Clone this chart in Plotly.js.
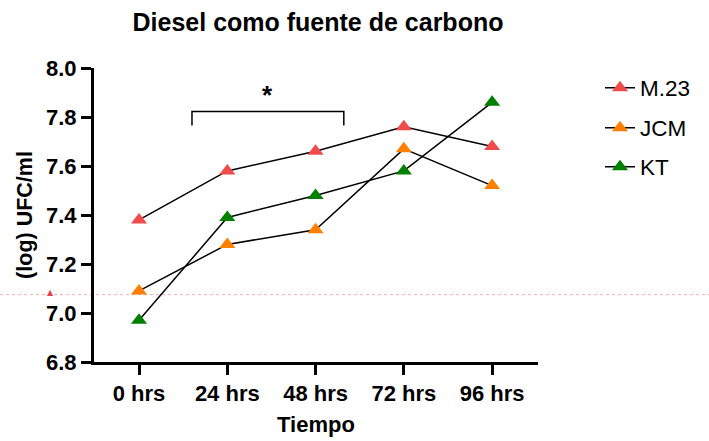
<!DOCTYPE html>
<html><head><meta charset="utf-8">
<script src="https://cdn.plot.ly/plotly-3.0.1.min.js"></script>
<style>html,body{margin:0;padding:0;background:#fff}</style>
</head><body><div id="chart" style="width:709px;height:441px"></div>
<script>
const categories = ["0 hrs", "24 hrs", "48 hrs", "72 hrs", "96 hrs"];
const seriesNames = ["M.23", "JCM", "KT"];
const m23 = [7.38, 7.58, 7.66, 7.76, 7.68];
const jcm = [7.09, 7.28, 7.34, 7.67, 7.52];
const kt  = [6.97, 7.39, 7.48, 7.58, 7.86];
const colors = ["#F24B4B", "#FF8000", "#008000"];
const yTicks = [6.8, 7.0, 7.2, 7.4, 7.6, 7.8, 8.0];
const refLine = 7.075;
const refMarkerX = -1.06;
const bracket = {from: 0.6, to: 2.32, top: 7.822, bottom: 7.765, label: "*"};

const FONT = "Liberation Sans, Arial, sans-serif";
const xRange = [-0.51, 4.52];
const xIdx = categories.map((_, i) => i);
const series = [m23, jcm, kt];
const legendIds = ["legend", "legend2", "legend3"];
const traces = series.map((vals, i) => ({
  type: "scatter", mode: "lines+markers", x: xIdx, y: vals, name: seriesNames[i],
  line: {color: "#000", width: 1.5},
  marker: {symbol: "triangle-up", size: 14, color: colors[i]},
  legend: legendIds[i], cliponaxis: false
}));

const legendBase = {xanchor: "left", yanchor: "middle",
  font: {family: FONT, size: 22.5, color: "#000"}, bgcolor: "rgba(0,0,0,0)"};
const legX = (600 - 94) / 444;
const refMarkerPaperX = (refMarkerX - xRange[0]) / (xRange[1] - xRange[0]);
const layout = {
  width: 709, height: 441,
  margin: {l: 94, r: 171, t: 68, b: 79},
  paper_bgcolor: "#fff", plot_bgcolor: "#fff",
  font: {family: FONT, color: "#000"},
  showlegend: true,
  title: {text: "<b>Diesel como fuente de carbono</b>", x: 318/709, xanchor: "center", y: 1 - 22/441, yanchor: "middle",
    font: {family: FONT, size: 25, color: "#000"}},
  xaxis: {range: xRange, tickvals: xIdx, ticktext: categories.map(c => "<b>" + c + "</b>"),
    showgrid: false, zeroline: false, showline: true, linecolor: "#000", linewidth: 3,
    ticks: "outside", ticklen: 10, tickwidth: 3, tickcolor: "#000",
    tickfont: {family: FONT, size: 22, color: "#000"},
    title: {text: "<b>Tiempo</b>", font: {family: FONT, size: 22, color: "#000"}, standoff: 12}},
  yaxis: {range: [6.8, 8.0], tickvals: yTicks, ticktext: yTicks.map(v => "<b>" + v.toFixed(1) + "</b>"),
    showgrid: false, zeroline: false, showline: true, linecolor: "#000", linewidth: 3,
    ticks: "outside", ticklen: 10, tickwidth: 3, tickcolor: "#000",
    tickfont: {family: FONT, size: 22, color: "#000"},
    title: {text: "<b>(log) UFC/ml</b>", font: {family: FONT, size: 21.5, color: "#000"}, standoff: 8}},
  legend: Object.assign({x: legX, y: 1 - (88-68)/294}, legendBase),
  legend2: Object.assign({x: legX, y: 1 - (128-68)/294}, legendBase),
  legend3: Object.assign({x: legX, y: 1 - (167-68)/294}, legendBase),
  shapes: [
    {type: "line", xref: "paper", yref: "y", x0: -94/444, x1: (709-94)/444, y0: refLine, y1: refLine,
      line: {color: "rgba(230,120,120,0.6)", width: 1, dash: "dot"}, layer: "below"},
    {type: "path", xref: "x", yref: "y",
      path: `M ${bracket.from} ${bracket.bottom} L ${bracket.from} ${bracket.top} L ${bracket.to} ${bracket.top} L ${bracket.to} ${bracket.bottom}`,
      line: {color: "#000", width: 1.5}}
  ],
  annotations: [
    {x: (bracket.from + bracket.to) / 2, y: bracket.top, xref: "x", yref: "y", text: "<b>" + bracket.label + "</b>",
      showarrow: false, yanchor: "bottom", yshift: 0, font: {family: FONT, size: 26, color: "#000"}},
    {x: refMarkerPaperX, y: refLine, xref: "paper", yref: "y", text: "▲", showarrow: false,
      yanchor: "middle", yshift: 2, font: {family: "DejaVu Sans", size: 8, color: "#E0474C"}}
  ]
};
Plotly.newPlot("chart", traces, layout, {displayModeBar: false, staticPlot: true});
</script></body></html>
